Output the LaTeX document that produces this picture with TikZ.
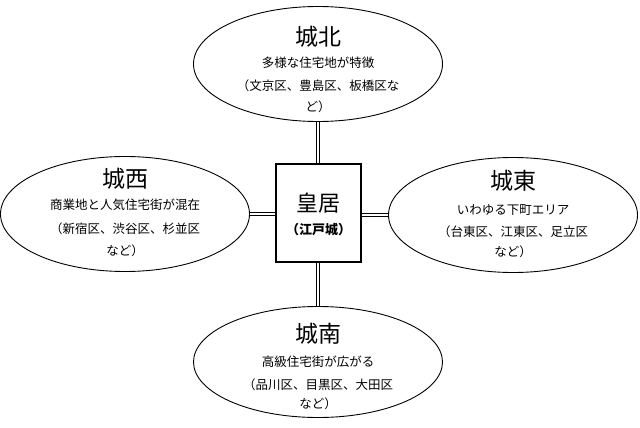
\documentclass[tikz,border=0pt]{standalone}
\usepackage{fontspec}
\newfontfamily\jp{Noto Sans CJK JP}
\usetikzlibrary{shapes.geometric}
\begin{document}
\begin{tikzpicture}[x=1pt,y=-1pt,
  every node/.style={font=\jp, inner sep=0pt},
  area/.style={draw, ellipse, line width=0.9pt, minimum width=249pt, minimum height=115pt},
  center box/.style={draw, rectangle, line width=2pt, minimum width=85pt, minimum height=98pt},
  ttl/.style={font=\jp\fontsize{23}{23}\selectfont},
  body/.style={font=\jp\fontsize{12.5}{12.5}\selectfont},
  dbl/.style={draw, line width=0.8pt, double, double distance=1.8pt}]
\useasboundingbox (0,0) rectangle (640,428);
\fill[white] (0,0) rectangle (640,428);
% regions
\node[area] (N) at (318,64) {};
\node[area] (W) at (125,214) {};
\node[area] (E) at (513,215) {};
\node[area, minimum height=111pt] (S) at (318,362) {};
% center
\node[center box] (C) at (318.5,213) {};
\node[font=\jp\fontsize{22}{22}\selectfont] (Ct) at (318.5,203) {皇居};
\node[font=\jp\bfseries\fontsize{13}{13}\selectfont] (Cs) at (318.5,230) {（江戸城）};
% north text
\node[ttl] (Nt) at (318,37) {城北};
\node[body] (N1) at (318,63) {多様な住宅地が特徴};
\node[body] (N2) at (318,86) {（文京区、豊島区、板橋区な};
\node[body] (N3) at (318,107) {ど）};
% west text
\node[ttl] (Wt) at (125,179) {城西};
\node[body] (W1) at (125,205) {商業地と人気住宅街が混在};
\node[body] (W2) at (125,229) {（新宿区、渋谷区、杉並区};
\node[body] (W3) at (125,251) {など）};
% east text
\node[ttl] (Et) at (513,181) {城東};
\node[body] (E1) at (513,210) {いわゆる下町エリア};
\node[body] (E2) at (513,232) {（台東区、江東区、足立区};
\node[body] (E3) at (513,252) {など）};
% south text
\node[ttl] (St) at (318,334) {城南};
\node[body] (S1) at (318,362) {高級住宅街が広がる};
\node[body] (S2) at (318,385) {（品川区、目黒区、大田区};
\node[body] (S3) at (318,404) {など）};
% connectors
\draw[dbl] (N.south) -- (N.south |- C.north);
\draw[dbl] (S.north) -- (S.north |- C.south);
\draw[dbl] (W.east) -- (W.east -| C.west);
\draw[dbl] (E.west) -- (E.west -| C.east);
\end{tikzpicture}
\end{document}
